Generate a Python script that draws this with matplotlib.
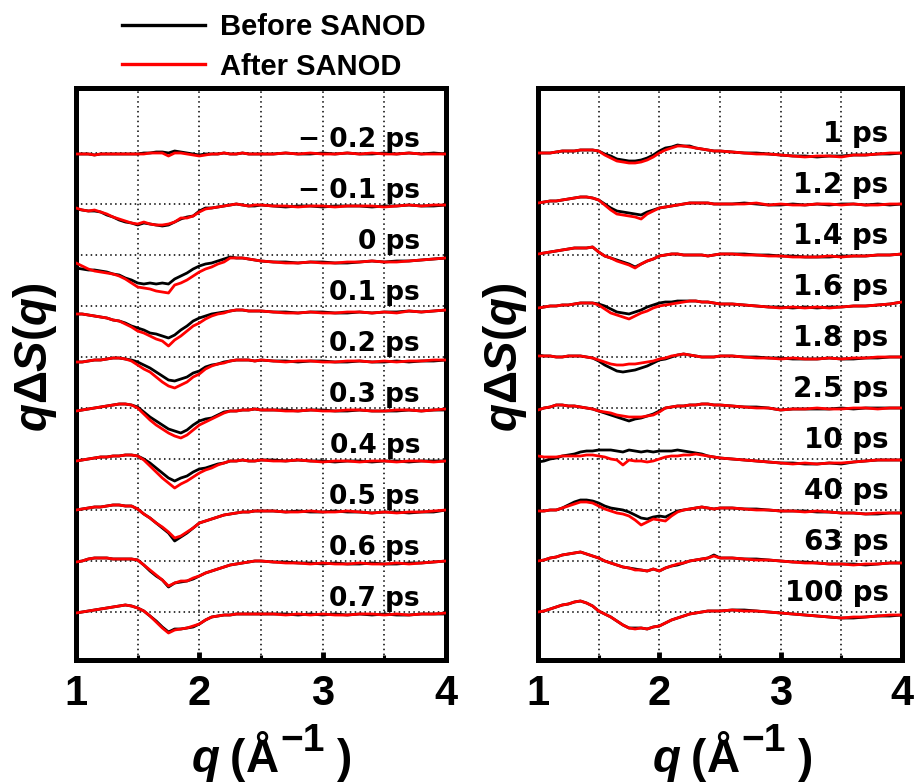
import matplotlib

matplotlib.use("Agg")

import matplotlib.pyplot as plt
import numpy as np
from matplotlib.lines import Line2D

# q grid (1/Angstrom): fine steps over the feature, coarser above 2.5
q = [1.00, 1.05, 1.10, 1.15, 1.20, 1.25, 1.30, 1.35, 1.40, 1.45,
     1.50, 1.55, 1.60, 1.65, 1.70, 1.75, 1.80, 1.85, 1.90, 1.95,
     2.00, 2.05, 2.10, 2.15, 2.20, 2.25, 2.30, 2.35, 2.40, 2.45, 2.50,
     2.6, 2.7, 2.8, 2.9, 3.0, 3.1, 3.2, 3.3, 3.4, 3.5, 3.6, 3.7, 3.8, 3.9, 4.0]

left_labels = ["\u2212 0.2 ps", "\u2212 0.1 ps", "0 ps", "0.1 ps", "0.2 ps",
               "0.3 ps", "0.4 ps", "0.5 ps", "0.6 ps", "0.7 ps"]
right_labels = ["1 ps", "1.2 ps", "1.4 ps", "1.6 ps", "1.8 ps",
                "2.5 ps", "10 ps", "40 ps", "63 ps", "100 ps"]

# q*dS(q), arbitrary units (one trace step = 51)
left_before = [
    [-1, -1, -1, -2, -1, -1, -1, -1, -1, -1, -1, 0, 0, 1, 1, 0, 2, 1, 0, -1, -2, -1, -1, -1, 0, -1, -1, 0, -1, -1, -1,
     -1, 0, -1, -1, 0, -1, 0, -1, -1, 0, -1, 0, -1, 0, -1],
    [-5, -6, -7, -7, -8, -11, -13, -16, -18, -19, -21, -19, -20, -21, -22, -21, -18, -15, -13, -12, -7, -4, -4, -3, -2, -1, 0, -1, -2, -2, -1,
     -2, -3, -2, -2, -3, -2, -2, -2, -3, -2, -2, -1, -2, -2, -1],
    [-13, -14, -15, -15, -16, -17, -19, -20, -23, -25, -28, -29, -28, -29, -28, -29, -24, -21, -18, -14, -11, -9, -8, -6, -4, -2, -3, -3, -4, -5, -6,
     -7, -7, -8, -7, -7, -8, -8, -7, -6, -7, -6, -6, -5, -4, -3],
    [-8, -8, -9, -10, -11, -12, -14, -15, -17, -20, -22, -24, -27, -28, -30, -32, -29, -24, -20, -15, -12, -10, -8, -7, -6, -5, -4, -4, -5, -5, -5,
     -6, -6, -7, -6, -6, -7, -7, -6, -7, -6, -6, -5, -6, -5, -4],
    [-5, -5, -4, -3, -3, -2, -1, -1, -2, -3, -5, -8, -11, -15, -19, -23, -24, -22, -20, -16, -14, -10, -8, -7, -5, -4, -3, -3, -3, -4, -3,
     -4, -4, -5, -4, -4, -5, -5, -4, -5, -5, -4, -5, -4, -4, -3],
    [-3, -2, -1, 0, 1, 2, 3, 4, 4, 3, 1, -4, -9, -13, -17, -21, -23, -25, -22, -17, -13, -11, -10, -7, -4, -3, -3, -2, -2, -1, -2,
     -2, -2, -3, -2, -2, -3, -3, -2, -3, -3, -3, -2, -3, -2, -2],
    [-2, -1, 0, 1, 2, 2, 3, 3, 4, 4, 3, 0, -4, -9, -14, -19, -22, -19, -17, -13, -10, -9, -7, -5, -4, -2, -2, -1, -2, -2, -1,
     -1, -2, -1, -2, -2, -3, -2, -2, -3, -2, -2, -3, -2, -2, -2],
    [0, 1, 2, 3, 3, 4, 5, 5, 4, 4, 1, -4, -8, -13, -18, -23, -31, -27, -23, -18, -13, -11, -9, -7, -5, -4, -3, -2, -2, -1, -1,
     -1, -2, -1, -2, -2, -1, -2, -2, -3, -2, -2, -3, -2, -2, 0],
    [-1, 0, 2, 3, 3, 3, 2, 2, 2, 2, 1, -4, -10, -15, -19, -26, -22, -21, -20, -18, -15, -12, -10, -8, -6, -4, -3, -2, -1, 0, 0,
     -1, -1, -2, -2, -3, -2, -3, -3, -2, -3, -3, -2, -2, -1, 0],
    [-1, 0, 1, 2, 3, 4, 5, 6, 7, 6, 4, 1, -4, -9, -15, -20, -17, -17, -16, -15, -12, -8, -5, -4, -3, -3, -2, -2, -2, -2, -2,
     -2, -2, -3, -2, -3, -2, -3, -2, -3, -2, -3, -3, -2, -2, -2],
]
left_after = [
    [-1, -1, -1, -2, -1, -1, -1, -1, -1, -1, -1, -1, 0, 0, 0, -3, 0, 0, -1, -2, -3, -2, -1, -1, 0, -1, -1, 0, -1, -1, -1,
     -1, 0, -1, 0, -1, -1, 0, -1, 0, -1, -1, 0, -1, -1, -1],
    [-4, -6, -7, -6, -8, -10, -13, -15, -17, -19, -20, -18, -20, -21, -21, -20, -18, -14, -14, -12, -8, -5, -4, -3, -2, -1, 0, -1, -2, -1, -1,
     -2, -2, -3, -2, -2, -3, -2, -2, -2, -3, -2, -1, -2, -1, -1],
    [-8, -11, -14, -16, -17, -18, -19, -21, -24, -28, -32, -33, -34, -36, -37, -38, -30, -28, -25, -21, -17, -14, -12, -9, -7, -3, -3, -3, -4, -5, -6,
     -7, -8, -8, -7, -8, -8, -7, -7, -6, -7, -7, -6, -5, -4, -3],
    [-8, -8, -9, -10, -11, -12, -14, -15, -18, -21, -25, -27, -30, -33, -35, -40, -34, -30, -25, -20, -17, -13, -10, -8, -7, -5, -4, -4, -5, -5, -5,
     -6, -7, -7, -6, -7, -7, -6, -6, -7, -6, -7, -5, -6, -5, -4],
    [-5, -5, -4, -3, -3, -2, -1, -1, -2, -4, -8, -12, -15, -20, -25, -29, -31, -28, -25, -20, -17, -12, -9, -7, -6, -4, -3, -3, -3, -4, -3,
     -4, -5, -4, -4, -5, -5, -4, -4, -5, -4, -5, -4, -4, -3, -3],
    [-3, -2, -1, 0, 1, 2, 3, 4, 4, 3, 0, -6, -12, -17, -21, -25, -28, -30, -27, -22, -17, -14, -11, -8, -5, -3, -3, -2, -2, -1, -2,
     -2, -3, -3, -2, -3, -3, -2, -2, -3, -3, -2, -2, -3, -2, -1],
    [-2, -1, 0, 1, 2, 2, 3, 3, 4, 4, 3, -1, -7, -13, -19, -24, -29, -25, -22, -18, -14, -11, -9, -6, -4, -2, -2, -1, -2, -2, -1,
     -2, -2, -1, -2, -3, -2, -2, -3, -2, -2, -3, -2, -2, -3, -2],
    [0, 1, 2, 3, 3, 4, 5, 5, 4, 4, 1, -4, -8, -13, -17, -22, -28, -26, -22, -18, -13, -11, -9, -7, -5, -4, -3, -2, -2, -1, -1,
     -1, -2, -2, -1, -2, -2, -1, -2, -3, -2, -3, -2, -2, -1, 0],
    [-1, 0, 2, 3, 3, 3, 2, 2, 2, 2, 1, -4, -9, -14, -19, -25, -22, -20, -20, -17, -15, -12, -10, -8, -6, -4, -3, -2, -1, 0, 0,
     -1, -2, -2, -3, -2, -3, -3, -2, -3, -3, -2, -3, -2, -1, 0],
    [-1, 0, 1, 2, 3, 4, 5, 6, 7, 6, 4, 1, -4, -10, -16, -21, -18, -17, -16, -14, -12, -8, -5, -4, -3, -3, -2, -2, -2, -2, -2,
     -2, -3, -2, -3, -2, -3, -3, -2, -2, -3, -2, -3, -2, -2, -1],
]
right_before = [
    [0, 0, 0, 1, 2, 2, 2, 3, 3, 3, 2, -1, -3, -6, -7, -8, -8, -7, -5, -2, 2, 5, 6, 8, 7, 7, 5, 4, 3, 2, 2,
     1, 0, 0, -1, -2, -3, -3, -4, -3, -3, -2, -2, -1, -1, 0],
    [1, 2, 3, 3, 4, 5, 6, 7, 7, 6, 4, 0, -4, -7, -8, -9, -10, -11, -8, -6, -4, -3, -2, -1, 0, 1, 1, 1, 1, 0, 0,
     0, 1, 0, -1, -1, 0, -1, 0, -1, 0, 0, -1, 0, -1, 0],
    [1, 2, 3, 4, 5, 6, 7, 7, 7, 8, 3, -1, -3, -5, -7, -9, -12, -9, -6, -4, -1, 0, 1, 1, 0, 0, 0, 0, -1, 0, 1,
     1, 1, 0, 0, -1, -1, -2, -2, -2, -1, -1, -1, 0, 0, 1],
    [-2, -1, 0, 0, 1, 1, 2, 3, 3, 3, 2, 0, -3, -6, -7, -8, -6, -4, -1, 1, 3, 4, 4, 5, 5, 5, 5, 4, 4, 3, 2,
     2, 1, 0, -1, -1, -2, -1, -2, -1, -1, 0, 0, 1, 2, 4],
    [2, 1, 1, 0, 0, 1, 1, 1, 0, -1, -4, -8, -11, -14, -15, -14, -13, -11, -9, -6, -3, -2, 0, 2, 3, 2, 1, 0, 0, 0, 1,
     1, 0, 0, -1, -1, -2, -2, -2, -1, -2, -2, -1, -1, 0, 0],
    [-2, 0, 1, 3, 3, 2, 2, 1, 0, -1, -3, -5, -7, -9, -11, -13, -11, -10, -8, -6, -3, 0, 1, 2, 2, 3, 3, 4, 4, 3, 3,
     2, 1, 1, 0, -2, -1, -1, -1, -1, 0, -1, 0, 0, 0, 0],
    [-3, -2, 0, 1, 3, 4, 5, 7, 8, 8, 9, 9, 9, 8, 7, 9, 8, 7, 8, 7, 8, 8, 8, 9, 8, 7, 6, 5, 3, 2, 1,
     0, -1, -2, -3, -4, -4, -5, -5, -4, -5, -3, -2, -1, -1, -1],
    [-1, -1, 0, 0, 2, 5, 8, 10, 10, 9, 7, 4, 2, 1, 0, -2, -5, -8, -9, -7, -6, -7, -4, -1, 0, 1, 2, 3, 2, 1, 2,
     2, 1, 1, 0, -1, -1, -1, -2, -2, -3, -3, -4, -4, -3, -3],
    [0, 1, 3, 4, 6, 7, 8, 9, 7, 5, 3, 0, -2, -4, -6, -7, -8, -9, -10, -8, -10, -7, -5, -4, -2, 0, 1, 2, 3, 6, 3,
     3, 2, 2, 1, 0, -1, -1, -2, -3, -3, -3, -4, -3, -2, -2],
    [0, 1, 3, 5, 7, 8, 10, 11, 9, 6, 1, -2, -5, -9, -13, -16, -16, -16, -17, -15, -14, -11, -8, -6, -4, -2, -1, 0, 1, 1, 1,
     2, 2, 1, 0, -1, -2, -3, -4, -5, -6, -6, -5, -4, -4, -3],
]
right_after = [
    [0, 0, 0, 1, 2, 2, 2, 3, 3, 3, 2, -2, -5, -8, -9, -10, -10, -9, -7, -4, 0, 3, 5, 7, 7, 6, 5, 4, 3, 2, 2,
     1, 0, -1, -1, -2, -3, -4, -3, -3, -4, -2, -2, -1, 0, 0],
    [1, 2, 3, 3, 4, 5, 6, 7, 7, 6, 4, -1, -6, -10, -11, -12, -13, -15, -10, -7, -4, -3, -2, -1, 0, 1, 1, 1, 1, 0, 0,
     0, 0, 1, -1, 0, -1, -1, 0, 0, -1, 0, -1, -1, 0, 0],
    [1, 2, 3, 4, 5, 6, 7, 7, 7, 8, 3, -1, -3, -6, -8, -10, -13, -9, -6, -4, -1, 0, 1, 1, 0, 0, 0, 0, -1, 0, 1,
     1, 0, 0, -1, -1, -2, -2, -2, -1, -2, -1, -1, 0, 0, 1],
    [-2, -1, 0, 0, 1, 1, 2, 3, 3, 3, 1, -3, -7, -9, -11, -13, -10, -7, -5, -2, 0, 1, 2, 3, 4, 5, 5, 4, 4, 3, 2,
     2, 1, 0, -1, -2, -1, -2, -1, -2, -1, 0, 0, 1, 2, 4],
    [1, 1, 1, 0, 0, 1, 1, 1, 0, -1, -3, -5, -7, -8, -8, -7, -7, -6, -5, -4, -2, -1, 1, 2, 3, 2, 1, 0, 0, 0, 1,
     1, 0, -1, -1, -2, -1, -2, -2, -1, -2, -1, -1, 0, 0, 0],
    [-2, 0, 1, 3, 3, 2, 2, 1, 0, -1, -3, -4, -5, -7, -8, -9, -9, -9, -8, -7, -4, 0, 1, 2, 2, 3, 3, 4, 4, 3, 3,
     2, 1, 0, 0, -2, -1, -1, 0, -1, -1, 0, 0, -1, 0, 0],
    [3, 2, 2, 2, 3, 3, 3, 3, 4, 4, 3, 2, 0, -1, -6, -1, -2, -2, -3, -2, 0, 2, 3, 3, 4, 4, 5, 4, 3, 2, 1,
     0, -1, -2, -3, -4, -5, -4, -5, -4, -4, -3, -2, -1, -1, -1],
    [-1, -1, 0, 0, 2, 4, 6, 8, 8, 7, 4, 1, -1, -3, -4, -6, -10, -15, -12, -9, -10, -11, -6, -2, 0, 1, 2, 3, 2, 1, 2,
     2, 1, 0, 0, -1, -1, -2, -1, -2, -3, -3, -4, -3, -3, -3],
    [0, 1, 3, 4, 6, 7, 8, 9, 7, 5, 3, 0, -2, -4, -6, -7, -9, -9, -10, -8, -10, -7, -5, -3, -2, 0, 1, 2, 3, 5, 3,
     3, 2, 1, 1, 0, -1, -2, -2, -3, -3, -4, -3, -3, -2, -2],
    [0, 1, 3, 5, 7, 8, 10, 11, 9, 6, 1, -2, -5, -9, -13, -16, -17, -16, -17, -15, -14, -11, -8, -6, -4, -2, -1, 0, 1, 1, 1,
     2, 1, 1, 0, -1, -2, -3, -4, -5, -6, -5, -5, -4, -3, -3],
]

SPACING = 51
FIG_W, FIG_H = 920, 782
BOLD = ["Liberation Sans", "DejaVu Sans"]

plt.rcParams["font.family"] = BOLD
plt.rcParams["font.weight"] = "bold"
plt.rcParams["mathtext.fontset"] = "custom"
plt.rcParams["mathtext.rm"] = "Liberation Sans:bold"
plt.rcParams["mathtext.it"] = "Liberation Sans:italic:bold"
plt.rcParams["mathtext.bf"] = "Liberation Sans:bold"


def fx(px):
    return px / FIG_W


def fy(py):
    return 1 - py / FIG_H


def draw_panel(ax, before, after, labels, label_q, label_pad, label_size):
    for name, group in (("before", before), ("after", after)):
        for row in group:
            if len(row) != len(q):
                raise ValueError(f"{name} row has {len(row)} points, expected {len(q)}")

    n = len(before)
    for i in range(n):
        off = (n - 1 - i) * SPACING
        ax.axhline(off, color="black", lw=1.1, ls=(0, (1, 2.2)), zorder=1)
        ax.plot(q, np.asarray(before[i]) + off, color="black", lw=2.0, zorder=3)
        ax.plot(q, np.asarray(after[i]) + off, color="#ff0000", lw=2.0, zorder=4)
        ax.text(label_q, off + label_pad, labels[i], ha="right", va="baseline",
                fontsize=label_size, fontweight="bold", family="DejaVu Sans", zorder=5)

    for xv in (1.5, 2.0, 2.5, 3.0, 3.5):
        ax.axvline(xv, color="black", lw=1.1, ls=(0, (1, 2.2)), zorder=1)

    ax.set_xlim(1, 4)
    ax.set_ylim(-48, 524)
    ax.set_yticks([])
    ax.set_xticks([1, 2, 3, 4])
    ax.set_xticklabels(["1", "2", "3", "4"])
    ax.set_xticks([1.5, 2.5, 3.5], minor=True)
    ax.tick_params(axis="x", which="major", direction="in", length=6, width=3.5,
                   labelsize=30, pad=10, top=False)
    ax.tick_params(axis="x", which="minor", direction="in", length=3.5, width=2.2, top=False)
    for spine in ax.spines.values():
        spine.set_linewidth(3.6)


fig = plt.figure(figsize=(FIG_W / 100, FIG_H / 100), dpi=100)
ax_l = fig.add_axes([fx(76), fy(660), fx(370), 572 / FIG_H])
ax_r = fig.add_axes([fx(538), fy(660), fx(364), 572 / FIG_H])

draw_panel(ax_l, left_before, left_after, left_labels, 3.79, 6, 19)
draw_panel(ax_r, right_before, right_after, right_labels, 3.89, 11, 20)

# y labels
for x_px in (35, 505):
    fig.text(fx(x_px), fy(357), r"$q\Delta S(q)$", rotation=90, ha="center", va="center",
             fontsize=33)

# x labels built piece by piece so the superscript stays large
for shift in (0, 461):
    fig.text(fx(192 + shift), fy(772), "q", style="italic", fontsize=33, va="baseline")
    fig.text(fx(230 + shift), fy(772), "(", fontsize=33, va="baseline")
    fig.text(fx(246 + shift), fy(772), "\u00c5", fontsize=33, va="baseline")
    fig.text(fx(280 + shift), fy(751), "\u2212" + "1", fontsize=28, va="baseline")
    fig.text(fx(337 + shift), fy(772), ")", fontsize=33, va="baseline")

handles = [Line2D([], [], color="black", lw=2.4), Line2D([], [], color="#ff0000", lw=2.4)]
fig.legend(handles, ["Before SANOD", "After SANOD"], loc="upper left",
           bbox_to_anchor=(fx(122), fy(13)), frameon=False, fontsize=21,
           handlelength=2.85, handletextpad=0.5, labelspacing=0.4,
           borderpad=0, borderaxespad=0)

fig.savefig("out.png", dpi=100)
